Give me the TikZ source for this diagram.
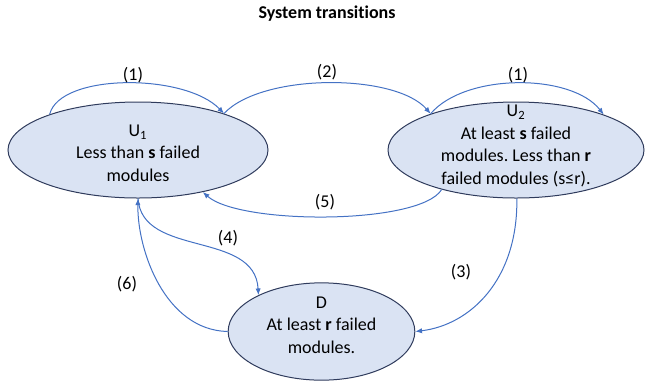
\documentclass[tikz,border=0pt]{standalone}
\usepackage{fontspec}
\setmainfont{Carlito}[Ligatures=NoCommon]
\frenchspacing
\usetikzlibrary{arrows.meta,shapes.geometric}
\definecolor{edgeblue}{HTML}{4472C4}
\definecolor{statefill}{HTML}{DAE3F3}
\definecolor{stateline}{HTML}{2F3B5C}
\tikzset{
	state/.style={ellipse, draw=stateline, fill=statefill, line width=0.75pt, inner sep=0pt},
	statetext/.style={align=center, inner sep=0pt, font=\fontsize{13.5}{16.9}\selectfont},
	trans/.style={draw=edgeblue, line width=0.75pt, -{Latex[length=5pt,width=4pt]}},
	translabel/.style={inner sep=0pt, font=\fontsize{13.5}{16.9}\selectfont},
}

\begin{document}
\begin{tikzpicture}[x=0.75pt, y=-0.75pt]
		%%%%% START %%%%%
		\useasboundingbox (0, 0) rectangle (646, 387);
		
		\node[font=\fontsize{13.5}{16.9}\selectfont\bfseries] (title) at (327, 14) {System transitions};
		
		% states
		\node[state, minimum width=195pt, minimum height=72pt] (u1) at (138, 150) {};
		\node[statetext] (u1txt) at (138, 153) {U\textsubscript{1}\\Less than \textbf{s} failed\\modules};
		
		\node[state, minimum width=192pt, minimum height=72pt] (u2) at (516, 150) {};
		\node[statetext] (u2txt) at (516, 146) {U\textsubscript{2}\\At least \textbf{s} failed\\modules. Less than \textbf{r}\\failed modules (s≤r).};
		
		\node[state, minimum width=140pt, minimum height=73pt] (d) at (321.5, 331.5) {};
		\node[statetext] (dtxt) at (321.5, 325) {D\\At least \textbf{r} failed\\modules.};
		
		% transitions
		\draw[trans] (u1.158) .. controls (60, 73) and (185, 73) .. (u1.23);
		\draw[trans] (u1.23) .. controls (262, 73) and (395, 73) .. (u2.157);
		\draw[trans] (u2.157) .. controls (465, 73) and (571, 73) .. (u2.22);
		\draw[trans] (u2.-89) .. controls (518, 280) and (470, 325) .. (d.0);
		\draw[trans] (u1.-90) .. controls (142, 258) and (255, 230) .. (d.150);
		\draw[trans] (u2.208) .. controls (420, 225) and (240, 225) .. (u1.-33);
		\draw[trans] (d.180) .. controls (165, 330) and (137, 250) .. (u1.-90);
		
		% labels
		\node[translabel] (l1a) at (133, 75) {(1)};
		\node[translabel] (l2) at (327, 72) {(2)};
		\node[translabel] (l1b) at (518, 75) {(1)};
		\node[translabel] (l3) at (461, 272) {(3)};
		\node[translabel] (l4) at (228, 238) {(4)};
		\node[translabel] (l5) at (325, 202) {(5)};
		\node[translabel] (l6) at (127, 284) {(6)};
		%%%%% END %%%%%
\end{tikzpicture}
\end{document}
